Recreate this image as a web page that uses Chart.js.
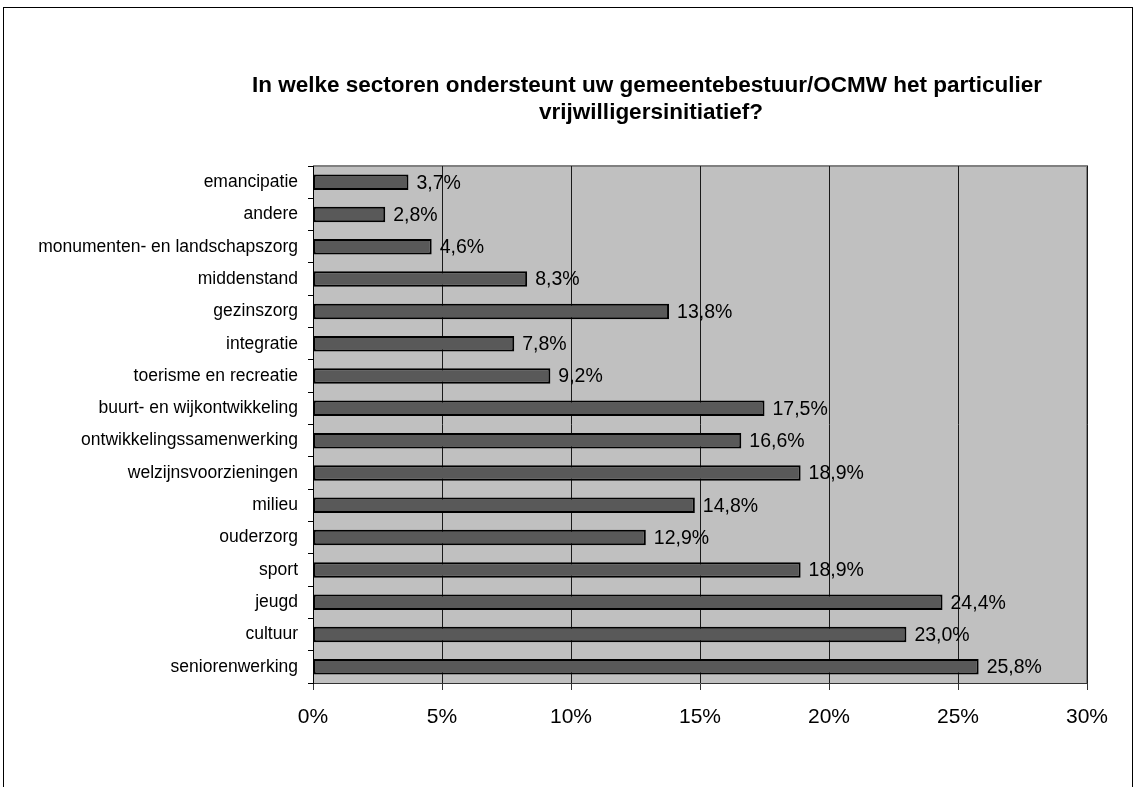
<!DOCTYPE html>
<html>
<head>
<meta charset="utf-8">
<script src="https://cdn.jsdelivr.net/npm/chart.js@4/dist/chart.umd.min.js"></script>
<style>
html,body{margin:0;padding:0;background:#fff;}
#wrap{width:1135px;height:787px;position:relative;}
</style>
</head>
<body>
<div id="wrap"><canvas id="c" width="1135" height="787"></canvas></div>
<script>
const titleLines = ["In welke sectoren ondersteunt uw gemeentebestuur/OCMW het particulier", "vrijwilligersinitiatief?"];
const categories = ["emancipatie","andere","monumenten- en landschapszorg","middenstand","gezinszorg","integratie","toerisme en recreatie","buurt- en wijkontwikkeling","ontwikkelingssamenwerking","welzijnsvoorzieningen","milieu","ouderzorg","sport","jeugd","cultuur","seniorenwerking"];
const values = [3.7,2.8,4.6,8.3,13.8,7.8,9.2,17.5,16.6,18.9,14.8,12.9,18.9,24.4,23.0,25.8];
const xTicks = [0,5,10,15,20,25,30];

const FONT = "'Liberation Sans', Arial, sans-serif";

const decor = {
  id: 'decor',
  beforeDraw(chart) {
    const ctx = chart.ctx, a = chart.chartArea;
    ctx.save();
    ctx.fillStyle = '#fff';
    ctx.fillRect(0,0,chart.width,chart.height);
    ctx.strokeStyle = '#000'; ctx.lineWidth = 1;
    ctx.strokeRect(3.5, 7.5, 1129, 900);
    ctx.fillStyle = '#C0C0C0';
    ctx.fillRect(a.left, a.top, a.right - a.left, a.bottom - a.top);
    ctx.strokeStyle = '#808080'; ctx.lineWidth = 2;
    ctx.beginPath();
    ctx.moveTo(a.left, a.top); ctx.lineTo(a.right, a.top); ctx.lineTo(a.right, a.bottom);
    ctx.stroke();
    ctx.fillStyle = '#000';
    ctx.font = "bold 22.5px " + FONT;
    ctx.textAlign = 'center'; ctx.textBaseline = 'alphabetic';
    ctx.fillText(titleLines[0], 647, 92);
    ctx.fillText(titleLines[1], 651, 119);
    ctx.restore();
  },
  afterDatasetsDraw(chart) {
    const ctx = chart.ctx;
    const meta = chart.getDatasetMeta(0);
    ctx.save();
    ctx.fillStyle = '#000';
    ctx.font = "19.5px " + FONT;
    ctx.textAlign = 'left'; ctx.textBaseline = 'middle';
    meta.data.forEach((bar, i) => {
      ctx.fillText(values[i].toFixed(1).replace('.', ',') + '%', bar.x + 8, bar.y + 1);
    });
    ctx.restore();
  }
};

new Chart(document.getElementById('c'), {
  type: 'bar',
  data: {
    labels: categories,
    datasets: [{
      data: values,
      backgroundColor: '#595959',
      borderColor: '#000',
      borderWidth: 2,
      borderSkipped: false,
      categoryPercentage: 1,
      barPercentage: 0.48
    }]
  },
  options: {
    indexAxis: 'y',
    responsive: false,
    animation: false,
    layout: { padding: { top: 166, right: 48, left: 0, bottom: 0 } },
    plugins: { legend: { display: false }, title: { display: false }, tooltip: { enabled: false } },
    scales: {
      x: {
        min: 0, max: 30,
        afterFit(s) { s.height = 104; },
        afterBuildTicks(s) { s.ticks = xTicks.map(v => ({ value: v })); },
        ticks: {
          callback: v => v + '%',
          color: '#000',
          font: { family: FONT, size: 21 },
          padding: 15
        },
        grid: { color: '#1a1a1a', lineWidth: 1, tickLength: 7, tickColor: '#333' },
        border: { color: '#333', width: 1 }
      },
      y: {
        afterFit(s) { s.width = 313; },
        ticks: {
          color: '#000',
          font: { family: FONT, size: 17.5 },
          padding: 10,
          autoSkip: false
        },
        grid: { drawOnChartArea: false, tickLength: 5, color: '#000', offset: true },
        border: { color: '#000', width: 1 }
      }
    }
  },
  plugins: [decor]
});
</script>
</body>
</html>
